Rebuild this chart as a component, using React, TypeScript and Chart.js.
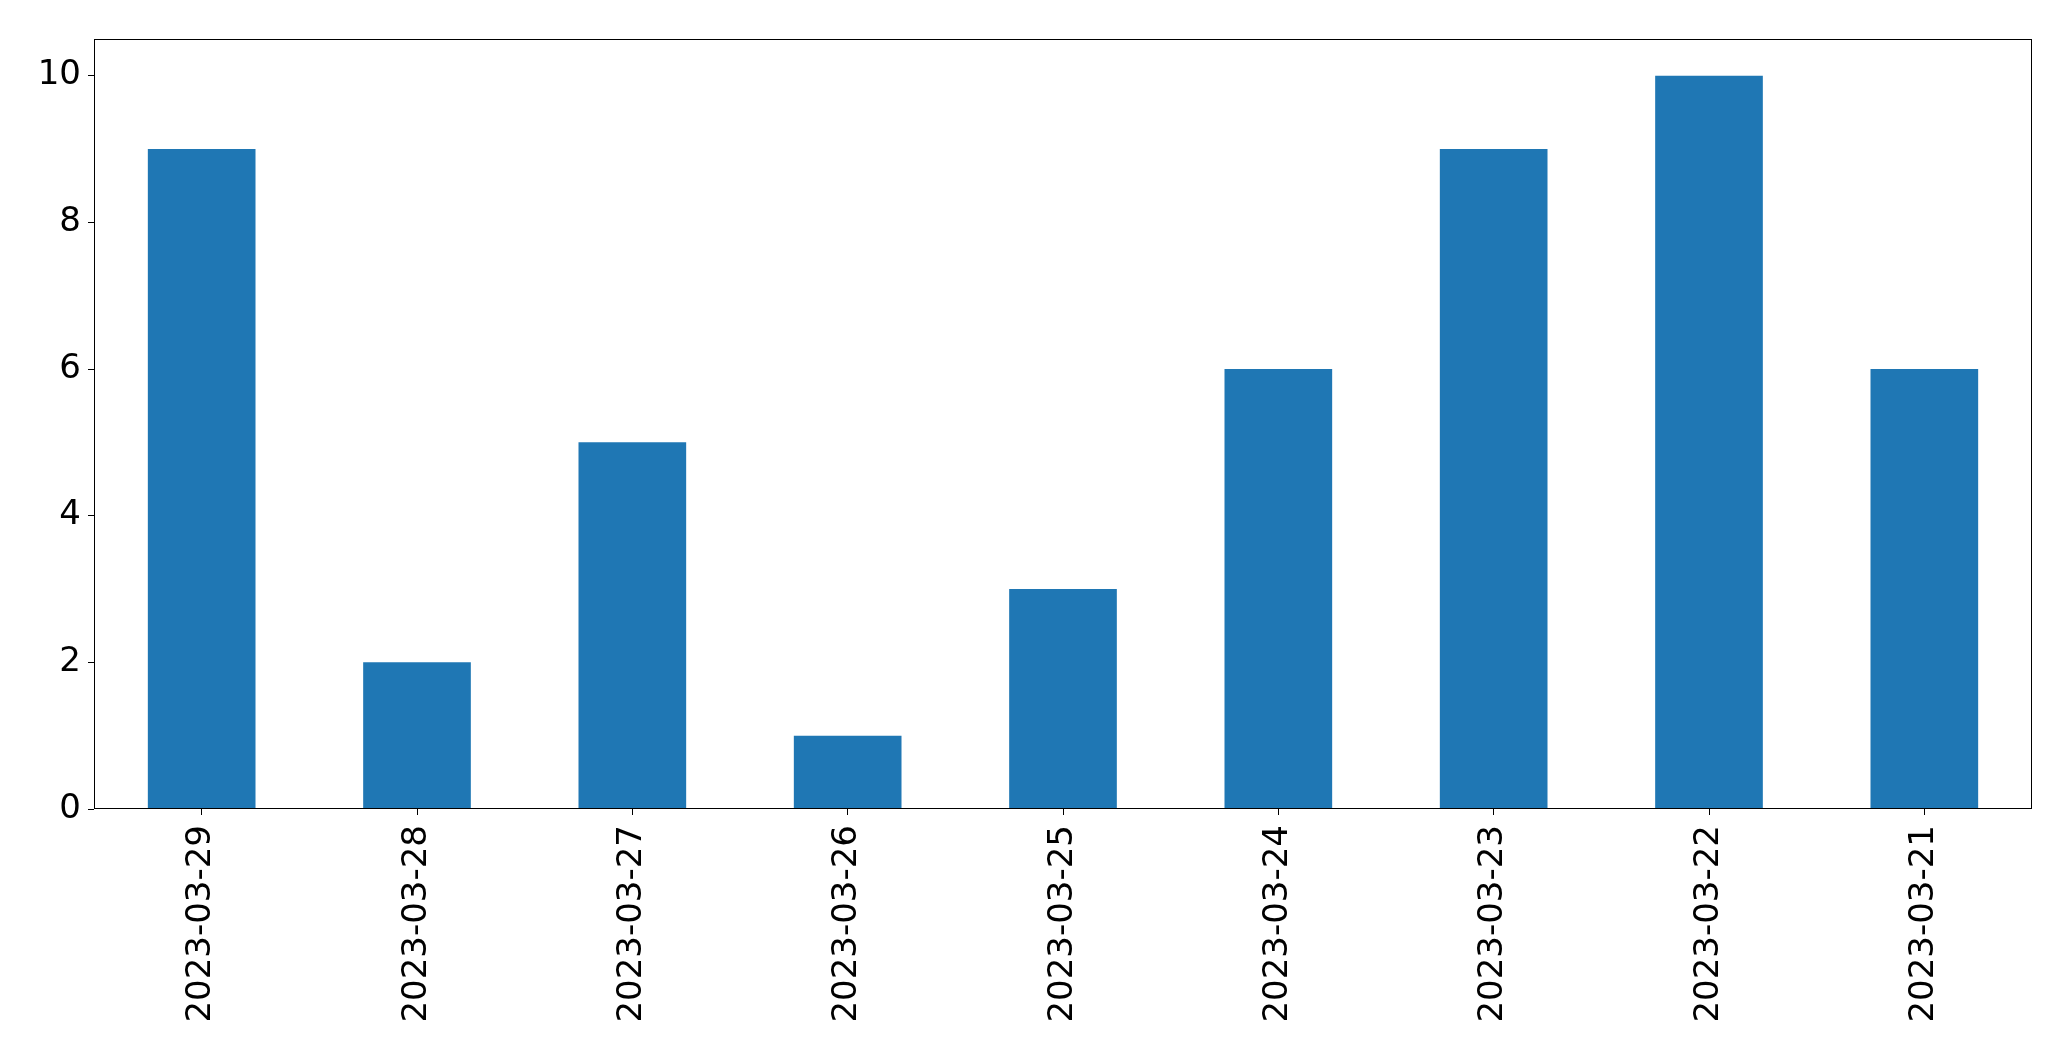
import React, { useEffect, useRef } from "react";
import { Chart, registerables } from "chart.js";

Chart.register(...registerables);

const categories = [
  "2023-03-29",
  "2023-03-28",
  "2023-03-27",
  "2023-03-26",
  "2023-03-25",
  "2023-03-24",
  "2023-03-23",
  "2023-03-22",
  "2023-03-21",
];
const values = [9, 2, 5, 1, 3, 6, 9, 10, 6];
const yTicks = [0, 2, 4, 6, 8, 10];
const yMax = 10.5;

const framePlugin = {
  id: "frame",
  afterDraw(chart: any) {
    const { ctx, chartArea } = chart;
    const l = Math.round(chartArea.left) + 0.5;
    const t = Math.round(chartArea.top) + 0.5;
    const r = Math.round(chartArea.right) - 0.5;
    const b = Math.round(chartArea.bottom) - 0.5;
    ctx.save();
    ctx.strokeStyle = "#000";
    ctx.lineWidth = 1;
    ctx.strokeRect(l, t, r - l, b - t);
    ctx.restore();
  },
};

export default function App() {
  const ref = useRef<HTMLCanvasElement | null>(null);
  useEffect(() => {
    document.body.style.margin = "0";
    const font = { family: "'DejaVu Sans'", size: 34 };
    const chart = new Chart(ref.current!, {
      type: "bar",
      data: {
        labels: categories,
        datasets: [
          {
            data: values,
            backgroundColor: "#1f77b4",
            barPercentage: 0.5,
            categoryPercentage: 1,
          },
        ],
      },
      options: {
        animation: false,
        responsive: false,
        maintainAspectRatio: false,
        layout: { padding: { top: 39, right: 39, left: 0, bottom: 0 } },
        plugins: { legend: { display: false }, tooltip: { enabled: false } },
        scales: {
          x: {
            offset: true,
            grid: {
              offset: false,
              drawOnChartArea: false,
              drawTicks: true,
              tickLength: 6,
              tickColor: "#000",
              tickWidth: 1,
            },
            border: { display: false },
            ticks: {
              color: "#000",
              font,
              minRotation: 90,
              maxRotation: 90,
              padding: 10,
              autoSkip: false,
            },
            afterFit: (s: any) => {
              s.height = 252;
            },
          },
          y: {
            min: 0,
            max: yMax,
            grid: {
              drawOnChartArea: false,
              drawTicks: true,
              tickLength: 6,
              tickColor: "#000",
              tickWidth: 1,
            },
            border: { display: false },
            ticks: { color: "#000", font, padding: 7 },
            afterBuildTicks: (s: any) => {
              s.ticks = yTicks.map((v) => ({ value: v }));
            },
            afterFit: (s: any) => {
              s.width = 94;
            },
          },
        },
      },
      plugins: [framePlugin],
    });
    return () => chart.destroy();
  }, []);
  return (
    <div style={{ position: "absolute", left: 0, top: 0, width: 2071, height: 1061, background: "#fff" }}>
      <canvas ref={ref} width={2071} height={1061} style={{ width: 2071, height: 1061 }} />
    </div>
  );
}
